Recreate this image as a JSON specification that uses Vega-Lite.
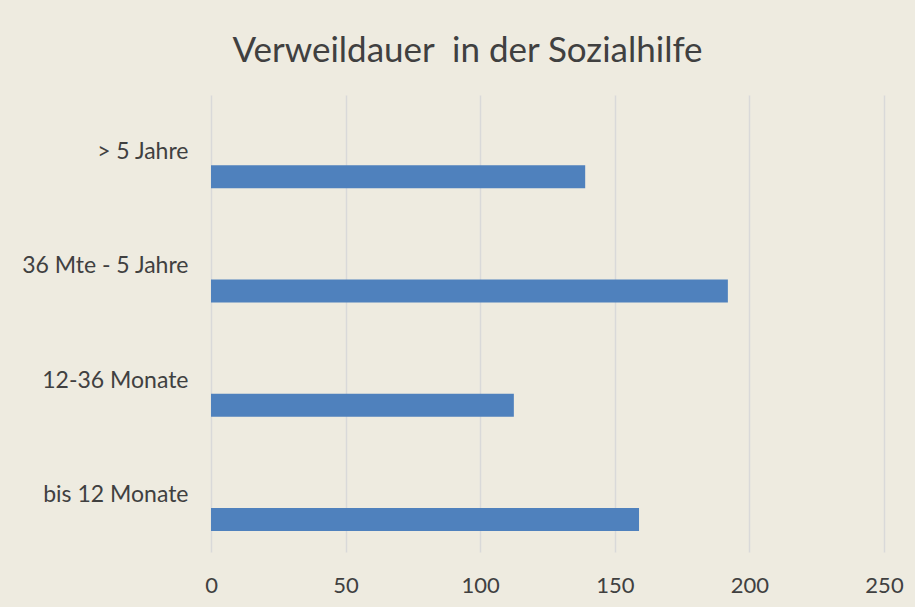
{
  "$schema": "https://vega.github.io/schema/vega-lite/v6.json",
  "width": 673,
  "height": 457,
  "autosize": {"type": "none"},
  "padding": {"left": 211, "top": 95, "right": 31, "bottom": 55},
  "background": "#EEEBE0",
  "title": {
    "text": "Verweildauer\u00a0 in der Sozialhilfe",
    "font": "Lato",
    "fontSize": 35,
    "fontWeight": "normal",
    "color": "#404040",
    "anchor": "middle",
    "dx": -80,
    "dy": 35,
    "offset": 33,
    "baseline": "alphabetic"
  },
  "data": {
    "values": [
      {"kategorie": "> 5 Jahre", "anzahl": 139},
      {"kategorie": "36 Mte - 5 Jahre", "anzahl": 192},
      {"kategorie": "12-36 Monate", "anzahl": 112.5},
      {"kategorie": "bis 12 Monate", "anzahl": 159}
    ]
  },
  "mark": {"type": "bar", "color": "#4F81BD", "height": 23, "yOffset": 24.5},
  "encoding": {
    "y": {
      "field": "kategorie",
      "type": "nominal",
      "sort": null,
      "title": null,
      "scale": {"paddingInner": 0, "paddingOuter": 0},
      "axis": {
        "domain": false,
        "ticks": false,
        "grid": false,
        "labelFont": "Lato",
        "labelFontSize": 23,
        "labelColor": "#404040",
        "labelPadding": 23,
        "labelLimit": 300
      }
    },
    "x": {
      "field": "anzahl",
      "type": "quantitative",
      "title": null,
      "scale": {"domain": [0, 250], "nice": false},
      "axis": {
        "values": [0, 50, 100, 150, 200, 250],
        "domain": false,
        "ticks": false,
        "grid": true,
        "gridColor": "#D9D9D9",
        "gridWidth": 1.5,
        "labelFont": "Lato",
        "labelFontSize": 22,
        "labelColor": "#404040",
        "labelPadding": 23,
        "labelFlush": false
      }
    }
  },
  "config": {"view": {"stroke": null}}
}
